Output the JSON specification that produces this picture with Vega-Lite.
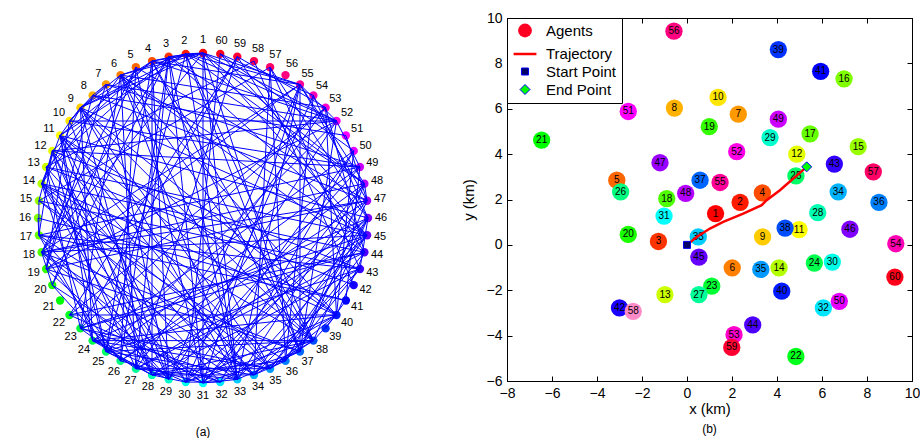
{
  "$schema": "https://vega.github.io/schema/vega-lite/v6.json",
  "background": "white",
  "padding": {"left": 5, "top": 11, "right": 5, "bottom": 0},
  "bounds": "flush",
  "spacing": 106,
  "config": {
    "view": {"stroke": null},
    "font": "Liberation Sans",
    "axis": {"labelFont": "Liberation Sans", "labelFontSize": 14, "labelColor": "black", "titleFont": "Liberation Sans", "titleFontSize": 15, "titleFontWeight": "normal", "titleColor": "black", "domainColor": "black", "tickColor": "black", "grid": false, "tickSize": -5, "labelPadding": 10, "labelFlush": false, "labelOverlap": false, "labelBound": false},
    "legend": {"orient": "top-left", "offset": 0, "padding": 5, "strokeColor": "black", "fillColor": "white", "labelFont": "Liberation Sans", "labelFontSize": 15, "labelColor": "black", "labelOffset": 8, "rowPadding": 2},
    "title": {"font": "Liberation Sans", "fontSize": 12, "fontWeight": "normal", "color": "black"}
  },
  "datasets": {
    "agents": [
      {"id":1,"x":1.27,"y":1.38,"cx":0,"cy":1},
      {"id":2,"x":2.36,"y":1.87,"cx":-0.1045,"cy":0.9945},
      {"id":3,"x":-1.27,"y":0.15,"cx":-0.2079,"cy":0.9781},
      {"id":4,"x":3.35,"y":2.29,"cx":-0.309,"cy":0.9511},
      {"id":5,"x":-3.12,"y":2.85,"cx":-0.4067,"cy":0.9135},
      {"id":6,"x":2.01,"y":-1.01,"cx":-0.5,"cy":0.866},
      {"id":7,"x":2.28,"y":5.76,"cx":-0.5878,"cy":0.809},
      {"id":8,"x":-0.56,"y":6.03,"cx":-0.6691,"cy":0.7431},
      {"id":9,"x":3.36,"y":0.35,"cx":-0.7431,"cy":0.6691},
      {"id":10,"x":1.38,"y":6.5,"cx":-0.809,"cy":0.5878},
      {"id":11,"x":4.98,"y":0.67,"cx":-0.866,"cy":0.5},
      {"id":12,"x":4.88,"y":4.0,"cx":-0.9135,"cy":0.4067},
      {"id":13,"x":-0.98,"y":-2.19,"cx":-0.9511,"cy":0.309},
      {"id":14,"x":4.09,"y":-1.01,"cx":-0.9781,"cy":0.2079},
      {"id":15,"x":7.61,"y":4.33,"cx":-0.9945,"cy":0.1045},
      {"id":16,"x":6.98,"y":7.32,"cx":-1,"cy":0},
      {"id":17,"x":5.47,"y":4.89,"cx":-0.9945,"cy":-0.1045},
      {"id":18,"x":-0.9,"y":2.04,"cx":-0.9781,"cy":-0.2079},
      {"id":19,"x":0.99,"y":5.21,"cx":-0.9511,"cy":-0.309},
      {"id":20,"x":-2.61,"y":0.46,"cx":-0.9135,"cy":-0.4067},
      {"id":21,"x":-6.46,"y":4.62,"cx":-0.866,"cy":-0.5},
      {"id":22,"x":4.84,"y":-4.92,"cx":-0.809,"cy":-0.5878},
      {"id":23,"x":1.1,"y":-1.82,"cx":-0.7431,"cy":-0.6691},
      {"id":24,"x":5.66,"y":-0.8,"cx":-0.6691,"cy":-0.7431},
      {"id":25,"x":4.84,"y":3.04,"cx":-0.5878,"cy":-0.809},
      {"id":26,"x":-2.95,"y":2.34,"cx":-0.5,"cy":-0.866},
      {"id":27,"x":0.53,"y":-2.19,"cx":-0.4067,"cy":-0.9135},
      {"id":28,"x":5.81,"y":1.42,"cx":-0.309,"cy":-0.9511},
      {"id":29,"x":3.69,"y":4.73,"cx":-0.2079,"cy":-0.9781},
      {"id":30,"x":6.46,"y":-0.76,"cx":-0.1045,"cy":-0.9945},
      {"id":31,"x":-1.02,"y":1.27,"cx":0,"cy":-1},
      {"id":32,"x":6.06,"y":-2.78,"cx":0.1045,"cy":-0.9945},
      {"id":33,"x":0.5,"y":0.35,"cx":0.2079,"cy":-0.9781},
      {"id":34,"x":6.72,"y":2.34,"cx":0.309,"cy":-0.9511},
      {"id":35,"x":3.28,"y":-1.08,"cx":0.4067,"cy":-0.9135},
      {"id":36,"x":8.53,"y":1.87,"cx":0.5,"cy":-0.866},
      {"id":37,"x":0.58,"y":2.85,"cx":0.5878,"cy":-0.809},
      {"id":38,"x":4.36,"y":0.74,"cx":0.6691,"cy":-0.7431},
      {"id":39,"x":4.06,"y":8.61,"cx":0.7431,"cy":-0.6691},
      {"id":40,"x":4.21,"y":-2.04,"cx":0.809,"cy":-0.5878},
      {"id":41,"x":5.94,"y":7.65,"cx":0.866,"cy":-0.5},
      {"id":42,"x":-3.0,"y":-2.78,"cx":0.9135,"cy":-0.4067},
      {"id":43,"x":6.55,"y":3.56,"cx":0.9511,"cy":-0.309},
      {"id":44,"x":2.92,"y":-3.53,"cx":0.9781,"cy":-0.2079},
      {"id":45,"x":0.53,"y":-0.54,"cx":0.9945,"cy":-0.1045},
      {"id":46,"x":7.24,"y":0.69,"cx":1,"cy":0},
      {"id":47,"x":-1.2,"y":3.62,"cx":0.9945,"cy":0.1045},
      {"id":48,"x":-0.06,"y":2.27,"cx":0.9781,"cy":0.2079},
      {"id":49,"x":4.06,"y":5.54,"cx":0.9511,"cy":0.309},
      {"id":50,"x":6.77,"y":-2.49,"cx":0.9135,"cy":0.4067},
      {"id":51,"x":-2.61,"y":5.88,"cx":0.866,"cy":0.5},
      {"id":52,"x":2.21,"y":4.11,"cx":0.809,"cy":0.5878},
      {"id":53,"x":2.09,"y":-3.96,"cx":0.7431,"cy":0.6691},
      {"id":54,"x":9.28,"y":0.05,"cx":0.6691,"cy":0.7431},
      {"id":55,"x":1.47,"y":2.75,"cx":0.5878,"cy":0.809},
      {"id":56,"x":-0.58,"y":9.42,"cx":0.5,"cy":0.866},
      {"id":57,"x":8.28,"y":3.22,"cx":0.4067,"cy":0.9135},
      {"id":58,"x":-2.39,"y":-2.93,"cx":0.309,"cy":0.9511},
      {"id":59,"x":1.99,"y":-4.52,"cx":0.2079,"cy":0.9781},
      {"id":60,"x":9.24,"y":-1.42,"cx":0.1045,"cy":0.9945}
    ],
    "edges": [
      {"s":1,"t":[2,3,4,6,9,18,31,33,37,45,48,52,55]},
      {"s":2,"t":[4,6,9,11,25,33,37,38,48,52,55]},
      {"s":3,"t":[13,18,20,26,27,31,33,45,48]},
      {"s":4,"t":[9,11,12,25,28,29,37,38,52,55]},
      {"s":5,"t":[18,20,26,31,47]},
      {"s":6,"t":[9,14,23,27,33,35,38,40,44,45,53]},
      {"s":7,"t":[8,10,19,29,49,52]},
      {"s":8,"t":[10,19,47,51]},
      {"s":9,"t":[11,14,24,28,33,35,38,40,45]},
      {"s":10,"t":[19,29,49,52]},
      {"s":11,"t":[14,24,25,28,30,34,35,38,40,46]},
      {"s":12,"t":[15,17,25,28,29,34,43,49,52]},
      {"s":13,"t":[23,27,33,42,45,58]},
      {"s":14,"t":[24,28,30,32,35,38,40,44]},
      {"s":15,"t":[17,34,36,43,57]},
      {"s":16,"t":[17,41]},
      {"s":17,"t":[25,29,34,41,43,49]},
      {"s":18,"t":[20,26,31,33,37,45,47,48,55]},
      {"s":19,"t":[29,37,47,52,55]},
      {"s":20,"t":[26,31]},
      {"s":22,"t":[32,40,44,53,59]},
      {"s":23,"t":[27,33,35,44,45,53,59]},
      {"s":24,"t":[28,30,32,35,38,40,46,50]},
      {"s":25,"t":[28,29,34,38,43,49,52]},
      {"s":26,"t":[31,47,48]},
      {"s":27,"t":[33,35,44,45,53,59]},
      {"s":28,"t":[30,34,36,38,43,46]},
      {"s":29,"t":[49,52,55]},
      {"s":30,"t":[32,38,40,46,50,54,60]},
      {"s":31,"t":[33,37,45,47,48,55]},
      {"s":32,"t":[40,50]},
      {"s":33,"t":[37,45,48,55]},
      {"s":34,"t":[36,38,43,46,57]},
      {"s":35,"t":[38,40,44,45]},
      {"s":36,"t":[43,46,54,57]},
      {"s":37,"t":[47,48,52,55]},
      {"s":38,"t":[40,46]},
      {"s":39,"t":[41]},
      {"s":40,"t":[44,50,53]},
      {"s":41,"t":[49]},
      {"s":42,"t":[58]},
      {"s":43,"t":[46,57]},
      {"s":44,"t":[53,59]},
      {"s":46,"t":[54,57,60]},
      {"s":47,"t":[48,51,55]},
      {"s":48,"t":[55]},
      {"s":49,"t":[52]},
      {"s":50,"t":[60]},
      {"s":52,"t":[55]},
      {"s":53,"t":[59]},
      {"s":54,"t":[60]}
    ],
    "trajectory": [
      {"x":0,"y":0},{"x":0.43,"y":0.35},{"x":1.02,"y":0.72},{"x":1.61,"y":1.01},{"x":2.5,"y":1.38},{"x":3.32,"y":1.75},{"x":3.54,"y":1.97},{"x":4.13,"y":2.41},{"x":5.32,"y":3.44}
    ],
    "markers": [
      {"kind":"Start Point","x":0,"y":0},
      {"kind":"End Point","x":5.32,"y":3.44}
    ]
  },
  "resolve": {"scale": {"color": "independent", "fill": "independent", "stroke": "independent", "shape": "independent", "size": "independent", "strokeWidth": "independent"}, "legend": {"fill": "independent", "stroke": "independent", "shape": "independent", "size": "independent", "strokeWidth": "independent"}},
  "hconcat": [
    {
      "width": 396,
      "height": 400,
      "title": {"text": "(a)", "orient": "bottom", "offset": 9},
      "layer": [
        {
          "data": {"name": "agents"},
          "mark": {"type": "circle", "size": 70, "opacity": 1},
          "encoding": {
            "x": {"field": "cx", "type": "quantitative", "scale": {"domain": [-1.2, 1.2], "nice": false, "zero": false}, "axis": null},
            "y": {"field": "cy", "type": "quantitative", "scale": {"domain": [-1.2121, 1.2121], "nice": false, "zero": false}, "axis": null},
            "color": {"field": "id", "type": "ordinal", "legend": null, "scale": {"domain": [1,2,3,4,5,6,7,8,9,10,11,12,13,14,15,16,17,18,19,20,21,22,23,24,25,26,27,28,29,30,31,32,33,34,35,36,37,38,39,40,41,42,43,44,45,46,47,48,49,50,51,52,53,54,55,56,57,58,59,60], "range": ["#ff0000","#ff1a00","#ff3300","#ff4d00","#ff6600","#ff8000","#ff9900","#ffb300","#ffcc00","#ffe600","#ffff00","#e6ff00","#ccff00","#b3ff00","#99ff00","#80ff00","#66ff00","#4dff00","#33ff00","#1aff00","#00ff00","#00ff1a","#00ff33","#00ff4d","#00ff66","#00ff80","#00ff99","#00ffb3","#00ffcc","#00ffe6","#00ffff","#00e6ff","#00ccff","#00b3ff","#0099ff","#0080ff","#0066ff","#004dff","#0033ff","#001aff","#0000ff","#1a00ff","#3300ff","#4d00ff","#6600ff","#8000ff","#9900ff","#b300ff","#cc00ff","#e600ff","#ff00ff","#ff00e6","#ff00cc","#ff00b3","#ff0099","#ff0080","#ff0066","#ff004d","#ff0033","#ff001a"]}}
          }
        },
        {
          "data": {"name": "edges"},
          "transform": [
            {"flatten": ["t"]},
            {"lookup": "s", "from": {"data": {"name": "agents"}, "key": "id", "fields": ["cx", "cy"]}, "as": ["sx", "sy"]},
            {"lookup": "t", "from": {"data": {"name": "agents"}, "key": "id", "fields": ["cx", "cy"]}, "as": ["tx", "ty"]}
          ],
          "mark": {"type": "rule", "color": "#0000ff", "strokeWidth": 1},
          "encoding": {
            "x": {"field": "sx", "type": "quantitative", "axis": null},
            "y": {"field": "sy", "type": "quantitative", "axis": null},
            "x2": {"field": "tx"},
            "y2": {"field": "ty"}
          }
        },
        {
          "data": {"name": "agents"},
          "mark": {"type": "text", "radius": 178, "fontSize": 11, "font": "Liberation Sans", "color": "black", "align": "center", "baseline": "middle"},
          "encoding": {
            "theta": {"field": "id", "type": "quantitative", "stack": null, "scale": {"domain": [1, 61], "range": [6.2832, 0], "zero": false, "nice": false}},
            "text": {"field": "id", "type": "nominal"}
          }
        }
      ]
    },
    {
      "width": 405,
      "height": 363,
      "title": {"text": "(b)", "orient": "bottom", "offset": 8},
      "resolve": {"axis": {"x": "independent", "y": "independent"}},
      "layer": [
        {
          "data": {"name": "agents"},
          "mark": {"type": "circle", "size": 300, "opacity": 1},
          "encoding": {
            "x": {"field": "x", "type": "quantitative", "scale": {"domain": [-8, 10], "nice": false, "zero": false}, "axis": {"orient": "bottom", "title": "x (km)", "values": [-8,-6,-4,-2,0,2,4,6,8,10], "titlePadding": 1}},
            "y": {"field": "y", "type": "quantitative", "scale": {"domain": [-6, 10], "nice": false, "zero": false}, "axis": {"orient": "left", "title": "y (km)", "values": [-6,-4,-2,0,2,4,6,8,10], "titlePadding": 10}},
            "color": {"field": "id", "type": "ordinal", "legend": null, "scale": {"domain": [1,2,3,4,5,6,7,8,9,10,11,12,13,14,15,16,17,18,19,20,21,22,23,24,25,26,27,28,29,30,31,32,33,34,35,36,37,38,39,40,41,42,43,44,45,46,47,48,49,50,51,52,53,54,55,56,57,58,59,60], "range": ["#ff0000","#ff1a00","#ff3300","#ff4d00","#ff6600","#ff8000","#ff9900","#ffb300","#ffcc00","#ffe600","#ffff00","#e6ff00","#ccff00","#b3ff00","#99ff00","#80ff00","#66ff00","#4dff00","#33ff00","#1aff00","#00ff00","#00ff1a","#00ff33","#00ff4d","#00ff66","#00ff80","#00ff99","#00ffb3","#00ffcc","#00ffe6","#00ffff","#00e6ff","#00ccff","#00b3ff","#0099ff","#0080ff","#0066ff","#004dff","#0033ff","#001aff","#0000ff","#1a00ff","#3300ff","#4d00ff","#6600ff","#8000ff","#9900ff","#b300ff","#cc00ff","#e600ff","#ff00ff","#ff00e6","#ff00cc","#ff00b3","#ff0099","#ff0080","#ff0066","#ff8cc8","#ff0033","#ff001a"]}}
          }
        },
        {
          "data": {"name": "agents"},
          "mark": {"type": "text", "fontSize": 10, "font": "Liberation Sans", "color": "black", "align": "center", "baseline": "middle"},
          "encoding": {
            "x": {"field": "x", "type": "quantitative", "axis": null},
            "y": {"field": "y", "type": "quantitative", "axis": null},
            "text": {"field": "id", "type": "nominal"}
          }
        },
        {
          "data": {"name": "trajectory"},
          "mark": {"type": "line", "color": "#ff0000", "strokeWidth": 2.5},
          "encoding": {
            "x": {"field": "x", "type": "quantitative", "axis": null},
            "y": {"field": "y", "type": "quantitative", "axis": null}
          }
        },
        {
          "data": {"name": "markers"},
          "mark": {"type": "point", "filled": true, "opacity": 1},
          "encoding": {
            "x": {"field": "x", "type": "quantitative", "axis": null},
            "y": {"field": "y", "type": "quantitative", "axis": null},
            "shape": {"field": "kind", "type": "nominal", "title": null, "scale": {"domain": ["Agents", "Trajectory", "Start Point", "End Point"], "range": ["circle", "stroke", "square", "diamond"]}},
            "fill": {"field": "kind", "type": "nominal", "title": null, "scale": {"domain": ["Agents", "Trajectory", "Start Point", "End Point"], "range": ["#ff0022", "#ff0000", "#000066", "#00ff00"]}},
            "stroke": {"field": "kind", "type": "nominal", "title": null, "scale": {"domain": ["Agents", "Trajectory", "Start Point", "End Point"], "range": ["#ff0022", "#ff0000", "#0000ff", "#0000ff"]}},
            "size": {"field": "kind", "type": "nominal", "title": null, "scale": {"type": "ordinal", "domain": ["Agents", "Trajectory", "Start Point", "End Point"], "range": [190, 520, 49, 100]}},
            "strokeWidth": {"field": "kind", "type": "nominal", "title": null, "scale": {"type": "ordinal", "domain": ["Agents", "Trajectory", "Start Point", "End Point"], "range": [0, 2.5, 1, 1]}}
          }
        },
        {
          "data": {"name": "markers"},
          "mark": {"type": "point", "opacity": 0},
          "encoding": {
            "x": {"field": "x", "type": "quantitative", "axis": {"orient": "top", "labels": false, "title": null, "values": [-8,-6,-4,-2,0,2,4,6,8,10]}},
            "y": {"field": "y", "type": "quantitative", "axis": {"orient": "right", "labels": false, "title": null, "values": [-6,-4,-2,0,2,4,6,8,10]}}
          }
        }
      ]
    }
  ]
}
